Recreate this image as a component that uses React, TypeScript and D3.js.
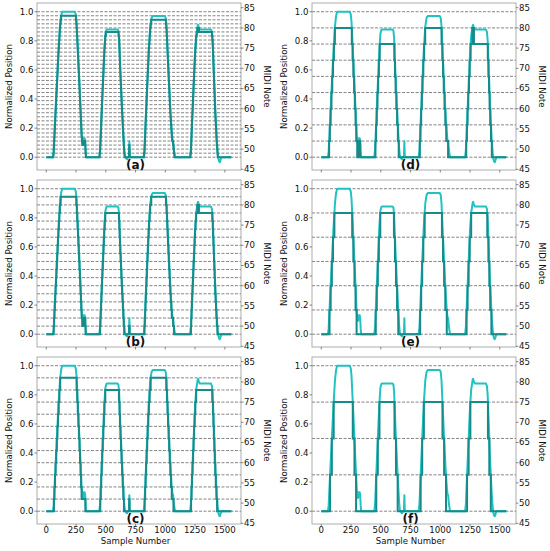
import React from "react";
import * as d3 from "d3";

// Sample index and normalized position (cyan trace)
const sampleNumber = [
  0, 56, 62, 72, 87, 102, 115, 124, 134, 240, 248, 254, 264, 276, 288, 297, 302, 307, 311, 315, 319, 323, 327, 331, 335,
  445, 452, 462, 475, 488, 497, 505, 512, 598, 606, 612, 622, 634, 646, 654, 660, 666, 672, 678, 684, 694, 698, 701, 704,
  818, 825, 835, 848, 862, 874, 884, 894, 996, 1004, 1010, 1020, 1032, 1044, 1054, 1060, 1066, 1070, 1076, 1082,
  1208, 1215, 1225, 1238, 1250, 1260, 1266, 1272, 1276, 1282, 1290, 1384, 1392, 1398, 1408, 1420, 1432, 1440, 1446, 1452, 1458, 1464, 1470, 1555,
];
const normalizedPosition = [
  0, 0, 0.04, 0.22, 0.47, 0.72, 0.9, 0.97, 1.0, 1.0, 0.98, 0.93, 0.76, 0.55, 0.33, 0.16, 0.11, 0.09, 0.13, 0.12, 0.1, 0.13, 0.11, 0.04, 0,
  0, 0.05, 0.25, 0.5, 0.74, 0.85, 0.875, 0.878, 0.878, 0.87, 0.82, 0.6, 0.38, 0.18, 0.06, 0.01, 0, -0.01, -0.015, 0, 0, 0.11, 0.02, 0,
  0, 0.05, 0.25, 0.5, 0.75, 0.9, 0.955, 0.97, 0.97, 0.955, 0.9, 0.72, 0.5, 0.3, 0.17, 0.12, 0.11, 0.07, 0.03, 0,
  0, 0.05, 0.25, 0.5, 0.72, 0.84, 0.87, 0.905, 0.91, 0.89, 0.878, 0.878, 0.86, 0.8, 0.58, 0.32, 0.12, 0.03, -0.01, -0.03, -0.035, -0.02, 0, 0,
];

const panelLabels = ["(a)", "(b)", "(c)", "(d)", "(e)", "(f)"];
// quantization step (semitones) used in each panel
const noteSteps = [1, 2, 3, 4, 6, 9];
const xTicks = [0, 250, 500, 750, 1000, 1250, 1500];
const leftTicks = [0, 0.2, 0.4, 0.6, 0.8, 1.0];
const rightTicks = [45, 50, 55, 60, 65, 70, 75, 80, 85];

const NOTE_LOW = 48;
const NOTE_HIGH = 84;
const Y_DOMAIN: [number, number] = [-0.088, 1.06];

const CYAN = "#22c2c2";
const TEAL = "#178a8a";
const FONT = "DejaVu Sans";
const TICK_SIZE = 8.6;
const LABEL_SIZE = 8.6;

const valueAt = (s: number) => {
  const i = Math.min(Math.max(d3.bisectRight(sampleNumber, s) - 1, 0), sampleNumber.length - 2);
  const s0 = sampleNumber[i], s1 = sampleNumber[i + 1];
  const t = s1 === s0 ? 0 : (s - s0) / (s1 - s0);
  return normalizedPosition[i] + t * (normalizedPosition[i + 1] - normalizedPosition[i]);
};

const Panel = ({ index }: { index: number }) => {
  const col = Math.floor(index / 3);
  const row = index % 3;
  const left = 37 + col * 275;
  const top = 3 + row * 177;
  const w = 204;
  const h = 167;

  const x = d3.scaleLinear().domain([-78, 1636]).range([left, left + w]);
  const y = d3.scaleLinear().domain(Y_DOMAIN).range([top + h, top]);
  const span = NOTE_HIGH - NOTE_LOW;
  const yNote = d3
    .scaleLinear()
    .domain([NOTE_LOW + span * Y_DOMAIN[0], NOTE_LOW + span * Y_DOMAIN[1]])
    .range([top + h, top]);

  const levels = span / noteSteps[index];
  const quantize = d3
    .scaleQuantize<number>()
    .domain([0, 1])
    .range(d3.range(levels).map((k) => k / levels));
  const gridLevels = d3.range(levels + 1).map((k) => k / levels);

  // break points where the quantized note changes
  const thresholds = quantize.thresholds();
  const breaks: number[] = [];
  for (let i = 0; i < sampleNumber.length - 1; i++) {
    const s0 = sampleNumber[i], s1 = sampleNumber[i + 1];
    const n0 = normalizedPosition[i], n1 = normalizedPosition[i + 1];
    breaks.push(s0);
    thresholds.forEach((t) => {
      if ((t - n0) * (t - n1) < 0) breaks.push(s0 + ((t - n0) / (n1 - n0)) * (s1 - s0));
    });
  }
  breaks.push(sampleNumber[sampleNumber.length - 1]);
  breaks.sort((a, b) => a - b);
  const stepPts: [number, number][] = breaks.slice(0, -1).map((b, i) => [b, quantize(valueAt((b + breaks[i + 1]) / 2))]);
  stepPts.push([breaks[breaks.length - 1], quantize(normalizedPosition[normalizedPosition.length - 1])]);

  const cyanPath =
    d3
      .line<number>()
      .x((_, i) => x(sampleNumber[i]))
      .y((d) => y(d))(normalizedPosition) || "";
  const tealPath =
    d3
      .line<[number, number]>()
      .x((d) => x(d[0]))
      .y((d) => y(d[1]))
      .curve(d3.curveStepAfter)(stepPts) || "";

  const isBottom = row === 2;

  return (
    <g>
      {/* quantization grid */}
      {gridLevels.map((g) => (
        <line key={g} x1={left} x2={left + w} y1={y(g)} y2={y(g)} stroke="#666" strokeWidth={0.8} strokeDasharray="3,1.5" />
      ))}
      <path d={cyanPath} fill="none" stroke={CYAN} strokeWidth={2} strokeLinejoin="round" />
      <path d={tealPath} fill="none" stroke={TEAL} strokeWidth={2} />

      {/* frame */}
      <rect x={left} y={top} width={w} height={h} fill="none" stroke="#999" strokeWidth={0.8} />

      {/* left axis */}
      {leftTicks.map((t) => (
        <g key={t}>
          <line x1={left - 2.5} x2={left} y1={y(t)} y2={y(t)} stroke="#555" strokeWidth={0.7} />
          <text x={left - 3.5} y={y(t)} dy="0.34em" textAnchor="end" fontSize={TICK_SIZE} fontFamily={FONT} fill="#111">
            {t.toFixed(1)}
          </text>
        </g>
      ))}
      {/* right axis */}
      {rightTicks.map((t) => (
        <g key={t}>
          <line x1={left + w} x2={left + w + 2.5} y1={yNote(t)} y2={yNote(t)} stroke="#555" strokeWidth={0.7} />
          <text x={left + w + 3} y={yNote(t)} dy="0.34em" textAnchor="start" fontSize={TICK_SIZE} fontFamily={FONT} fill="#111">
            {t}
          </text>
        </g>
      ))}
      {/* bottom axis */}
      {xTicks.map((t) => (
        <g key={t}>
          <line x1={x(t)} x2={x(t)} y1={top + h} y2={top + h + 2.5} stroke="#555" strokeWidth={0.7} />
          {isBottom && (
            <text x={x(t)} y={top + h + 8.5} textAnchor="middle" fontSize={TICK_SIZE} fontFamily={FONT} fill="#111">
              {t}
            </text>
          )}
        </g>
      ))}

      <text
        transform={`translate(${left - 24.9},${top + h / 2}) rotate(-90)`}
        textAnchor="middle"
        fontSize={LABEL_SIZE}
        fontFamily={FONT}
        fill="#111"
      >
        Normalized Position
      </text>
      <text
        transform={`translate(${left + w + 22.6},${top + h / 2}) rotate(90)`}
        textAnchor="middle"
        fontSize={LABEL_SIZE}
        fontFamily={FONT}
        fill="#111"
      >
        MIDI Note
      </text>
      {isBottom && (
        <text x={x(750)} y={top + h + 20} textAnchor="middle" fontSize={LABEL_SIZE} fontFamily={FONT} fill="#111">
          Sample Number
        </text>
      )}
      <text
        x={x(750)}
        y={y(-0.05)}
        dy="0.35em"
        textAnchor="middle"
        fontSize={12}
        fontWeight="bold"
        fontFamily={FONT}
        fill="#111"
      >
        {panelLabels[index]}
      </text>
    </g>
  );
};

export default function App() {
  return (
    <div style={{ position: "absolute", left: 0, top: 0 }}>
      <svg width={550} height={551} style={{ display: "block", background: "#fff" }}>
        {panelLabels.map((_, i) => (
          <Panel key={i} index={i} />
        ))}
      </svg>
    </div>
  );
}
